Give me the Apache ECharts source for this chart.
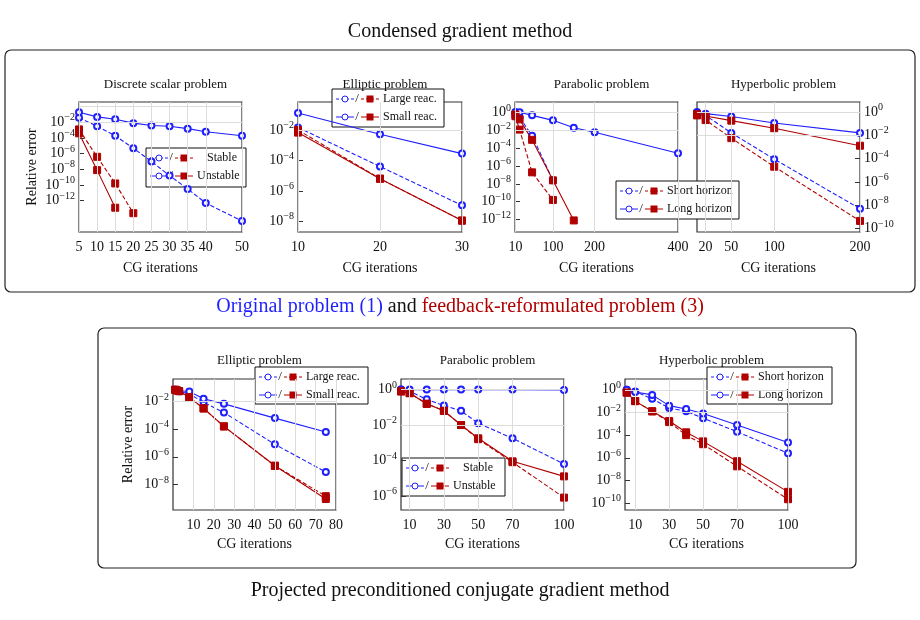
<!DOCTYPE html>
<html><head><meta charset="utf-8">
<script src="https://cdn.jsdelivr.net/npm/echarts@6/dist/echarts.min.js"></script>
<style>html,body{margin:0;background:#fff}#c{width:920px;height:620px}</style>
</head><body><div id="c"></div>
<script>
// ---- data (y values given as log10 exponents of the relative error) ----
const titles = ['Discrete scalar problem','Elliptic problem','Parabolic problem','Hyperbolic problem','Elliptic problem','Parabolic problem','Hyperbolic problem'];
const legendLabels = [['Stable','Unstable'],['Large reac.','Small reac.'],['Short horizon','Long horizon'],null,['Large reac.','Small reac.'],['Stable','Unstable'],['Short horizon','Long horizon']];
const xTicks = [[5,10,15,20,25,30,35,40,50],[10,20,30],[10,100,200,400],[20,50,100,200],[10,20,30,40,50,60,70,80],[10,30,50,70,100],[10,30,50,70,100]];
const yTickExp = [[-14,-12,-10,-8,-6,-4,-2,0],[-8,-6,-4,-2],[-12,-10,-8,-6,-4,-2,0],[-10,-8,-6,-4,-2,0],[-8,-6,-4,-2],[-6,-4,-2,0],[-10,-8,-6,-4,-2,0]];
// panel 0
const p0x = [5,10,15,20,25,30,35,40,50];
const p0blueDash = [-1.4,-2.5,-3.7,-5.3,-7,-8.8,-10.5,-12.3,-14.6];
const p0blueSolid = [-0.7,-1.3,-1.6,-2.1,-2.4,-2.5,-2.8,-3.2,-3.7];
const p0redDashX = [5,10,15,20], p0redDash = [-2.9,-6.4,-9.8,-13.6];
const p0redSolidX = [5,10,15], p0redSolid = [-3.4,-8.1,-12.9];
// panel 1
const p1x = [10,20,30];
const p1blueDash = [-1.83,-4.4,-6.95], p1blueSolid = [-0.88,-2.28,-3.55];
const p1redDash = [-2,-5.2,-7.95], p1redSolid = [-2.17,-5.2,-7.95];
// panel 2
const p2blueDashX = [10,20,50,100], p2blueDash = [0,-0.5,-2.6,-7.6];
const p2blueSolidX = [10,20,50,100,150,200,400], p2blueSolid = [0.07,0.05,-0.3,-0.86,-1.7,-2.2,-4.55];
const p2redDashX = [10,20,50,100], p2redDash = [-0.4,-1.9,-6.7,-9.8];
const p2redSolidX = [10,20,50,100,150], p2redSolid = [-0.2,-0.75,-3.05,-7.6,-12.1];
// panel 3
const p3x = [10,20,50,100,200];
const p3blueDash = [0,-0.3,-1.8,-4.05,-8.3], p3blueSolid = [-0.1,-0.15,-0.4,-0.95,-1.8];
const p3redDash = [-0.3,-0.7,-2.25,-4.7,-9.35], p3redSolid = [-0.2,-0.35,-0.75,-1.4,-2.9];
// panel 4
const p4x = [1,2,3,8,15,25,50,75];
const p4blueDash = [-1.15,-1.2,-1.25,-1.45,-2.05,-2.8,-5.1,-7.1];
const p4blueSolid = [-1.15,-1.2,-1.22,-1.27,-1.8,-2.17,-3.2,-4.2];
const p4redDash = [-1.15,-1.2,-1.25,-1.7,-2.5,-3.8,-6.65,-8.85];
const p4redSolid = [-1.15,-1.2,-1.25,-1.7,-2.5,-3.8,-6.65,-9.05];
// panel 5
const p5x = [5,10,20,30,40,50,70,100];
const p5blueDash = [0,-0.1,-0.55,-0.9,-1.2,-1.9,-2.75,-4.2];
const p5blueSolid = [0,0,0,0,0,0,0,-0.02];
const p5redDash = [-0.1,-0.2,-0.8,-1.2,-2.0,-2.8,-4.1,-6.1];
const p5redSolid = [-0.1,-0.2,-0.8,-1.2,-2.0,-2.75,-4.05,-4.9];
// panel 6
const p6x = [5,10,20,30,40,50,70,100];
const p6blueDash = [0,-0.15,-0.8,-1.6,-1.9,-2.5,-3.7,-5.6];
const p6blueSolid = [0,-0.2,-0.45,-1.4,-1.7,-2.1,-3.1,-4.65];
const p6redDash = [-0.25,-1.0,-1.9,-2.85,-4.0,-4.8,-6.75,-9.65];
const p6redSolid = [-0.25,-1.0,-1.9,-2.75,-3.75,-4.55,-6.3,-9.0];

const panels = [
 [[p0x,p0blueDash],[p0x,p0blueSolid],[p0redDashX,p0redDash],[p0redSolidX,p0redSolid]],
 [[p1x,p1blueDash],[p1x,p1blueSolid],[p1x,p1redDash],[p1x,p1redSolid]],
 [[p2blueDashX,p2blueDash],[p2blueSolidX,p2blueSolid],[p2redDashX,p2redDash],[p2redSolidX,p2redSolid]],
 [[p3x,p3blueDash],[p3x,p3blueSolid],[p3x,p3redDash],[p3x,p3redSolid]],
 [[p4x,p4blueDash],[p4x,p4blueSolid],[p4x,p4redDash],[p4x,p4redSolid]],
 [[p5x,p5blueDash],[p5x,p5blueSolid],[p5x,p5redDash],[p5x,p5redSolid]],
 [[p6x,p6blueDash],[p6x,p6blueSolid],[p6x,p6redDash],[p6x,p6redSolid]]
];

// ---- layout ----
const FONT = 'Liberation Serif';
const BLUE = '#1f1fff', RED = '#b00000';
const grids = [
 {left:79,top:102,width:163,height:130},{left:298,top:102,width:164,height:130},
 {left:515,top:102,width:163,height:130},{left:697,top:102,width:163,height:130},
 {left:173,top:379,width:163,height:131},{left:401,top:379,width:163,height:131},
 {left:625,top:379,width:163,height:131}];
const xRange = [[5,50],[10,30],[9,400],[10,200],[0,80],[5,100],[4,100]];
const yRange = [[-16,0.6],[-8.7,-0.16],[-13.4,1.2],[-10.3,0.85],[-9.85,-0.37],[-6.8,0.6],[-10.6,0.95]];
const legendBoxes = [[146,148,100,39],[332,89,112,38],[616,181,123,38],null,[255,367,113,37],[402,458,103,38],[707,367,125,37]];

const styles = [
 {color:BLUE,type:'dashed',symbol:'emptyCircle',size:6},
 {color:BLUE,type:'solid',symbol:'emptyCircle',size:6},
 {color:RED,type:'dashed',symbol:'rect',size:7},
 {color:RED,type:'solid',symbol:'rect',size:7}];

const sup = v => { const e = Math.round(Math.log10(v)); return '10{s|' + (e<0?'−':'') + Math.abs(e) + '}'; };

const option = {animation:false, grid:[], xAxis:[], yAxis:[], series:[], title:[], graphic:[]};
grids.forEach((g,i)=>{
  const yVals = yTickExp[i].map(e=>Math.pow(10,e));
  option.grid.push(Object.assign({show:true,borderColor:'#333',borderWidth:1.2,backgroundColor:'#fff'},g));
  option.xAxis.push({type:'value',gridIndex:i,min:xRange[i][0],max:xRange[i][1],
    name:'CG iterations',nameLocation:'middle',nameGap:i<4?29:27,
    nameTextStyle:{fontFamily:FONT,fontSize:14,color:'#111'},
    axisLine:{show:false},
    axisTick:{show:true,inside:true,customValues:xTicks[i],lineStyle:{color:'#333'}},
    axisLabel:{customValues:xTicks[i],fontFamily:FONT,fontSize:14,color:'#111',margin:8},
    splitLine:{show:false}});
  option.yAxis.push({type:'log',logBase:10,gridIndex:i,min:Math.pow(10,yRange[i][0]),max:Math.pow(10,yRange[i][1]),
    position:i===3?'right':'left',
    name:(i===0||i===4)?'Relative error':'',nameLocation:'middle',nameGap:i===0?40:38,
    nameTextStyle:{fontFamily:FONT,fontSize:14,color:'#111'},
    axisLine:{show:false},axisTick:{show:true,inside:true,customValues:yVals,lineStyle:{color:'#333'}},
    minorTick:{show:false},
    axisLabel:{customValues:yVals,formatter:sup,fontFamily:FONT,fontSize:14,color:'#111',margin:4,
      rich:{s:{fontFamily:FONT,fontSize:10,padding:[0,0,9,0]}}},
    splitLine:{show:false}});
  option.title.push({text:titles[i],left:g.left+g.width/2,textAlign:'center',top:i<4?73:349,
    textStyle:{fontFamily:FONT,fontSize:13,fontWeight:'normal',color:'#111'}});
  // grid lines at tick positions
  option.series.push({type:'line',xAxisIndex:i,yAxisIndex:i,data:[],z:1,silent:true,
    markLine:{silent:true,symbol:'none',label:{show:false},animation:false,
      lineStyle:{color:'#dcdcdc',type:'solid',width:1},
      data:xTicks[i].map(v=>({xAxis:v})).concat(yVals.map(v=>({yAxis:v})))}});
  panels[i].forEach((s,k)=>{
    const st = styles[k];
    option.series.push({type:'line',xAxisIndex:i,yAxisIndex:i,symbol:st.symbol,symbolSize:st.size,
      data:s[0].map((x,j)=>[x,Math.pow(10,s[1][j])]),
      lineStyle:{color:st.color,width:1.1,type:st.type},
      itemStyle:{color:st.color,borderColor:st.color,borderWidth:1},z:k<2?3:4});
  });
});

// frames, headings, legends
option.graphic.push({type:'rect',z:-10,shape:{x:5,y:50,width:910,height:242,r:6},style:{fill:'none',stroke:'#222',lineWidth:1.2}});
option.graphic.push({type:'rect',z:-10,shape:{x:98,y:328,width:758,height:240,r:6},style:{fill:'none',stroke:'#222',lineWidth:1.2}});
option.graphic.push({type:'text',left:'center',top:22,style:{text:'Condensed gradient method',font:'20px '+FONT,fill:'#111'}});
option.graphic.push({type:'text',left:'center',top:581,style:{text:'Projected preconditioned conjugate gradient method',font:'20px '+FONT,fill:'#111'}});
option.graphic.push({type:'text',left:'center',top:297,style:{text:'{b|Original problem (1)} and {r|feedback-reformulated problem (3)}',
  font:'20px '+FONT,fill:'#111',rich:{b:{fill:BLUE,font:'20px '+FONT},r:{fill:RED,font:'20px '+FONT}}}});

legendBoxes.forEach((b,i)=>{
  if(!b) return;
  const [x,y,w,h] = b, L = legendLabels[i];
  const ch = [{type:'rect',shape:{x:0,y:0,width:w,height:h},style:{fill:'#fff',stroke:'#111',lineWidth:1}}];
  [0,1].forEach(r=>{
    const yy = 10 + r*18, dash = r===0?[3,2]:null;
    ch.push({type:'line',shape:{x1:4,y1:yy,x2:22,y2:yy},style:{stroke:BLUE,lineWidth:1,lineDash:dash}});
    ch.push({type:'circle',shape:{cx:13,cy:yy,r:3},style:{fill:'#fff',stroke:BLUE,lineWidth:1}});
    ch.push({type:'text',x:25,y:yy,style:{text:'/',font:'13px '+FONT,fill:'#111',verticalAlign:'middle',align:'center'}});
    ch.push({type:'line',shape:{x1:29,y1:yy,x2:47,y2:yy},style:{stroke:RED,lineWidth:1,lineDash:dash}});
    ch.push({type:'rect',shape:{x:34.5,y:yy-3.5,width:7,height:7},style:{fill:RED}});
    ch.push({type:'text',x:r===0&&L[0]==='Stable'?61:51,y:yy,style:{text:L[r],font:'12px '+FONT,fill:'#111',verticalAlign:'middle'}});
  });
  option.graphic.push({type:'group',x:x,y:y,z:100,children:ch});
});

const chart = echarts.init(document.getElementById('c'));
chart.setOption(option);
</script></body></html>
